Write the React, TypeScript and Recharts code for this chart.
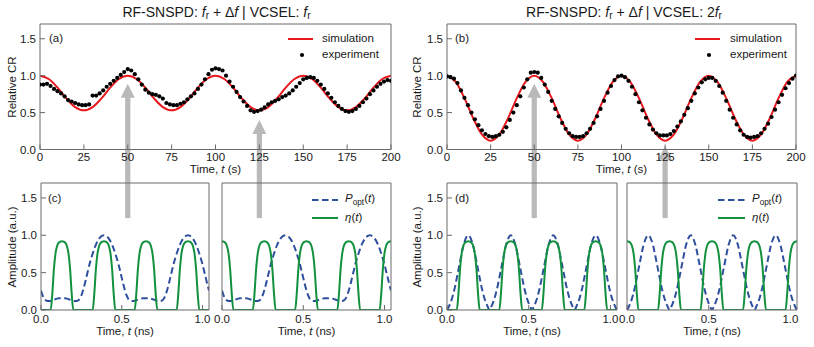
import React from 'react';
import { LineChart, Line, XAxis, YAxis } from 'recharts';

// ---------- data ----------
const expTimeS = Array.from({ length: 101 }, (_, i) => i * 2);
const simTimeS = Array.from({ length: 41 }, (_, i) => i * 5);
const gridNs = Array.from({ length: 105 }, (_, i) => i / 100);

const simA = [
  1.0, 0.955, 0.838, 0.692, 0.575, 0.53, 0.575, 0.692, 0.838, 0.955,
  1.0, 0.955, 0.838, 0.692, 0.575, 0.53, 0.575, 0.692, 0.838, 0.955,
  1.0, 0.955, 0.838, 0.692, 0.575, 0.53, 0.575, 0.692, 0.838, 0.955,
  1.0, 0.955, 0.838, 0.692, 0.575, 0.53, 0.575, 0.692, 0.838, 0.955,
  1.0,
];
const simB = [
  1.0, 0.916, 0.696, 0.424, 0.204, 0.12, 0.204, 0.424, 0.696, 0.916,
  1.0, 0.916, 0.696, 0.424, 0.204, 0.12, 0.204, 0.424, 0.696, 0.916,
  1.0, 0.916, 0.696, 0.424, 0.204, 0.12, 0.204, 0.424, 0.696, 0.916,
  1.0, 0.916, 0.696, 0.424, 0.204, 0.12, 0.204, 0.424, 0.696, 0.916,
  1.0,
];
const expA = [
  0.88, 0.88, 0.89, 0.86, 0.82, 0.79, 0.76, 0.72, 0.67, 0.65,
  0.63, 0.61, 0.6, 0.6, 0.61, 0.73, 0.73, 0.76, 0.8, 0.85,
  0.89, 0.93, 0.97, 1.01, 1.05, 1.09, 1.07, 1.02, 0.95, 0.88,
  0.81, 0.77, 0.75, 0.74, 0.72, 0.69, 0.63, 0.61, 0.6, 0.6,
  0.62, 0.64, 0.68, 0.72, 0.76, 0.82, 0.88, 0.95, 1.02, 1.08,
  1.1, 1.09, 1.07, 1.0, 0.92, 0.85, 0.78, 0.71, 0.65, 0.59,
  0.53, 0.51, 0.52, 0.54, 0.57, 0.61, 0.64, 0.66, 0.68, 0.71,
  0.73, 0.76, 0.8, 0.85, 0.9, 0.95, 0.97, 0.98, 0.97, 0.93,
  0.88, 0.82, 0.76, 0.7, 0.64, 0.59, 0.55, 0.52, 0.51, 0.52,
  0.55, 0.59, 0.64, 0.69, 0.75, 0.8, 0.85, 0.89, 0.92, 0.94,
  0.93,
];
const expB = [
  0.99, 0.98, 0.96, 0.9, 0.8, 0.7, 0.6, 0.5, 0.41, 0.33,
  0.26, 0.21, 0.18, 0.17, 0.18, 0.2, 0.24, 0.3, 0.4, 0.5,
  0.6, 0.72, 0.84, 0.95, 1.04, 1.05, 1.04, 0.97, 0.88, 0.78,
  0.66, 0.55, 0.45, 0.36, 0.28, 0.22, 0.18, 0.17, 0.17, 0.18,
  0.22, 0.28, 0.36, 0.45, 0.55, 0.66, 0.77, 0.86, 0.94, 0.99,
  1.0, 0.98, 0.93, 0.85, 0.75, 0.64, 0.53, 0.43, 0.34, 0.27,
  0.22, 0.19, 0.19, 0.19, 0.21, 0.25, 0.31, 0.38, 0.47, 0.56,
  0.66, 0.76, 0.84, 0.91, 0.95, 0.97, 0.97, 0.93, 0.86, 0.77,
  0.66, 0.54, 0.43, 0.34, 0.26, 0.2, 0.17, 0.16, 0.17, 0.18,
  0.22, 0.28, 0.35, 0.44, 0.54, 0.64, 0.74, 0.83, 0.9, 0.96,
  1.0,
];
const etaA = [
  0, 0, 0, 0, 0, 0, 0, 0.22, 0.55, 0.76, 0.86, 0.9, 0.915, 0.92, 0.915, 0.9, 0.86, 0.76, 0.55, 0.22, 0, 0, 0, 0, 0, 0,
  0, 0, 0, 0, 0, 0, 0, 0.22, 0.55, 0.76, 0.86, 0.9, 0.915, 0.92, 0.915, 0.9, 0.86, 0.76, 0.55, 0.22, 0, 0, 0, 0, 0, 0,
  0, 0, 0, 0, 0, 0, 0, 0.22, 0.55, 0.76, 0.86, 0.9, 0.915, 0.92, 0.915, 0.9, 0.86, 0.76, 0.55, 0.22, 0, 0, 0, 0, 0, 0,
  0, 0, 0, 0, 0, 0, 0, 0.22, 0.55, 0.76, 0.86, 0.9, 0.915, 0.92, 0.915, 0.9, 0.86, 0.76, 0.55, 0.22, 0, 0, 0, 0, 0, 0,
  0,
];
const etaB = [
  0.92, 0.915, 0.9, 0.86, 0.76, 0.55, 0.22, 0, 0, 0, 0, 0, 0, 0, 0, 0, 0, 0, 0, 0, 0.22, 0.55, 0.76, 0.86, 0.9, 0.915,
  0.92, 0.915, 0.9, 0.86, 0.76, 0.55, 0.22, 0, 0, 0, 0, 0, 0, 0, 0, 0, 0, 0, 0, 0, 0.22, 0.55, 0.76, 0.86, 0.9, 0.915,
  0.92, 0.915, 0.9, 0.86, 0.76, 0.55, 0.22, 0, 0, 0, 0, 0, 0, 0, 0, 0, 0, 0, 0, 0, 0.22, 0.55, 0.76, 0.86, 0.9, 0.915,
  0.92, 0.915, 0.9, 0.86, 0.76, 0.55, 0.22, 0, 0, 0, 0, 0, 0, 0, 0, 0, 0, 0, 0, 0, 0.22, 0.55, 0.76, 0.86, 0.9, 0.915,
  0.92,
];
const popC = [
  0.26, 0.195, 0.15, 0.128, 0.12, 0.12, 0.123, 0.13, 0.138, 0.146,
  0.152, 0.156, 0.158, 0.158, 0.158, 0.156, 0.152, 0.146, 0.138, 0.13,
  0.123, 0.12, 0.12, 0.128, 0.15, 0.195, 0.26, 0.34, 0.43, 0.52,
  0.61, 0.685, 0.755, 0.82, 0.875, 0.92, 0.955, 0.98, 0.995, 1.0,
  0.995, 0.98, 0.955, 0.92, 0.875, 0.82, 0.755, 0.685, 0.61, 0.52,
  0.43, 0.34,
  0.26, 0.195, 0.15, 0.128, 0.12, 0.12, 0.123, 0.13, 0.138, 0.146,
  0.152, 0.156, 0.158, 0.158, 0.158, 0.156, 0.152, 0.146, 0.138, 0.13,
  0.123, 0.12, 0.12, 0.128, 0.15, 0.195, 0.26, 0.34, 0.43, 0.52,
  0.61, 0.685, 0.755, 0.82, 0.875, 0.92, 0.955, 0.98, 0.995, 1.0,
  0.995, 0.98, 0.955, 0.92, 0.875, 0.82, 0.755, 0.685, 0.61, 0.52,
  0.43, 0.34,
  0.26,
];
const popD = [
  0, 0.04, 0.09, 0.15, 0.23, 0.32, 0.43, 0.54, 0.65, 0.76, 0.86, 0.93, 0.98, 1.0, 0.98, 0.93, 0.86, 0.76, 0.65, 0.54, 0.43, 0.32, 0.23, 0.15, 0.09, 0.04,
  0, 0.04, 0.09, 0.15, 0.23, 0.32, 0.43, 0.54, 0.65, 0.76, 0.86, 0.93, 0.98, 1.0, 0.98, 0.93, 0.86, 0.76, 0.65, 0.54, 0.43, 0.32, 0.23, 0.15, 0.09, 0.04,
  0, 0.04, 0.09, 0.15, 0.23, 0.32, 0.43, 0.54, 0.65, 0.76, 0.86, 0.93, 0.98, 1.0, 0.98, 0.93, 0.86, 0.76, 0.65, 0.54, 0.43, 0.32, 0.23, 0.15, 0.09, 0.04,
  0, 0.04, 0.09, 0.15, 0.23, 0.32, 0.43, 0.54, 0.65, 0.76, 0.86, 0.93, 0.98, 1.0, 0.98, 0.93, 0.86, 0.76, 0.65, 0.54, 0.43, 0.32, 0.23, 0.15, 0.09, 0.04,
  0,
];

const xTicksS = [0, 25, 50, 75, 100, 125, 150, 175, 200];
const xMinorS = Array.from({ length: 41 }, (_, i) => i * 5);
const xTicksNs = [0, 0.5, 1.0];
const xMinorNs = Array.from({ length: 11 }, (_, i) => i / 10);
const yTicks = [0, 0.5, 1.0, 1.5];
const yMinor = Array.from({ length: 18 }, (_, i) => i / 10);
const arrowsA = [{ t: 50, v: 0.89 }, { t: 125, v: 0.4 }];
const arrowsB = [{ t: 50, v: 0.89 }, { t: 125, v: 0.05 }];
const arrowTailAmp = 1.23;

// ---------- style ----------
const FONT = '"Liberation Sans", Arial, Helvetica, sans-serif';
const FRAME = '#6a6a6a';
const RED = '#e8191e';
const BLUE = '#2d4f9c';
const GREEN = '#12913e';
const ARROW = '#b9b9b9';
const TXT = '#1a1a1a';
const Y_DOMAIN: [number, number] = [0, 1.7];
const S_DOMAIN: [number, number] = [0, 200];
const NS_DOMAIN: [number, number] = [0, 1.04];
const EPS = 0.01;

type Area = { x: number; y: number; w: number; h: number };
type Plot = { l: number; t: number; r: number; b: number };

const pairs = (ts: number[], vs: number[]) => ts.map((t, i) => ({ t, v: vs[i] }));

function frameAxes(
  xDomain: [number, number],
  xMajor: number[],
  xMinor: number[],
  xFmt: (v: number) => string,
  xTickMargin: number,
  showY: boolean
) {
  const tickStyle = { fill: TXT, fontSize: 11.5, fontFamily: FONT };
  const line = { stroke: FRAME, strokeWidth: 1 };
  return [
    <XAxis key="xm" xAxisId="xm" type="number" domain={xDomain} ticks={xMinor} interval={0} allowDataOverflow height={EPS} tickSize={-2.5} tick={false} axisLine={false} tickLine={line} stroke={FRAME} />,
    <XAxis key="x" xAxisId="x" dataKey="t" type="number" domain={xDomain} ticks={xMajor} interval={0} allowDataOverflow height={EPS} tickSize={-5} tickMargin={xTickMargin} tick={tickStyle} tickFormatter={xFmt} axisLine={line} tickLine={line} stroke={FRAME} />,
    <XAxis key="xtm" xAxisId="xtm" orientation="top" type="number" domain={xDomain} ticks={xMinor} interval={0} allowDataOverflow height={EPS} tickSize={-2.5} tick={false} axisLine={false} tickLine={line} stroke={FRAME} />,
    <XAxis key="xt" xAxisId="xt" orientation="top" type="number" domain={xDomain} ticks={xMajor} interval={0} allowDataOverflow height={EPS} tickSize={-5} tick={false} axisLine={line} tickLine={line} stroke={FRAME} />,
    <YAxis key="ym" yAxisId="ym" type="number" domain={Y_DOMAIN} ticks={yMinor} interval={0} allowDataOverflow width={EPS} tickSize={-2.5} tick={false} axisLine={false} tickLine={line} stroke={FRAME} />,
    <YAxis key="y" yAxisId="y" type="number" domain={Y_DOMAIN} ticks={yTicks} interval={0} allowDataOverflow width={EPS} tickSize={-5} tickMargin={9} tick={showY ? tickStyle : false} tickFormatter={(v: number) => v.toFixed(1)} axisLine={line} tickLine={line} stroke={FRAME} />,
    <YAxis key="yrm" yAxisId="yrm" orientation="right" type="number" domain={Y_DOMAIN} ticks={yMinor} interval={0} allowDataOverflow width={EPS} tickSize={-2.5} tick={false} axisLine={false} tickLine={line} stroke={FRAME} />,
    <YAxis key="yr" yAxisId="yr" orientation="right" type="number" domain={Y_DOMAIN} ticks={yTicks} interval={0} allowDataOverflow width={EPS} tickSize={-5} tick={false} axisLine={line} tickLine={line} stroke={FRAME} />,
  ];
}

function Panel(props: {
  area: Area;
  plot: Plot;
  xDomain: [number, number];
  xMajor: number[];
  xMinor: number[];
  xFmt: (v: number) => string;
  xTickMargin: number;
  showY: boolean;
  children: React.ReactNode;
}) {
  const { area, plot } = props;
  const margin = {
    left: plot.l - area.x - 2 * EPS,
    top: plot.t - area.y - 2 * EPS,
    right: area.x + area.w - plot.r - 2 * EPS,
    bottom: area.y + area.h - plot.b - 2 * EPS,
  };
  return (
    <div style={{ position: 'absolute', left: area.x, top: area.y, width: area.w, height: area.h }}>
      <LineChart width={area.w} height={area.h} margin={margin} style={{ overflow: 'visible' }}>
        {frameAxes(props.xDomain, props.xMajor, props.xMinor, props.xFmt, props.xTickMargin, props.showY)}
        {props.children}
      </LineChart>
    </div>
  );
}

const plotA: Plot = { l: 40, t: 24, r: 391, b: 149.5 };
const plotB: Plot = { l: 447, t: 24, r: 796, b: 149.5 };
const plotC1: Plot = { l: 41, t: 183, r: 209, b: 310 };
const plotC2: Plot = { l: 222, t: 183, r: 391, b: 310 };
const plotD1: Plot = { l: 447, t: 183, r: 617, b: 310 };
const plotD2: Plot = { l: 627, t: 183, r: 797, b: 310 };

const fmtS = (v: number) => String(v);
const fmtNs = (v: number) => v.toFixed(1);

const Sub = ({ children }: { children: React.ReactNode }) => (
  <span style={{ fontSize: '0.72em', verticalAlign: '-0.28em', fontStyle: 'normal' }}>{children}</span>
);

function Txt(props: { x: number; y: number; anchor?: 'start' | 'middle' | 'end'; size?: number; rotate?: boolean; children: React.ReactNode }) {
  const { x, y, anchor = 'middle', size = 11.5, rotate } = props;
  const tx = anchor === 'middle' ? '-50%' : anchor === 'end' ? '-100%' : '0';
  return (
    <div
      style={{
        position: 'absolute',
        left: x,
        top: y,
        transform: `translate(${rotate ? '-50%' : tx}, -50%)${rotate ? ' rotate(-90deg)' : ''}`,
        fontSize: size,
        fontFamily: FONT,
        color: TXT,
        whiteSpace: 'nowrap',
        lineHeight: 1,
      }}
    >
      {props.children}
    </div>
  );
}

function xPix(plot: Plot, dom: [number, number], t: number) {
  return plot.l + ((t - dom[0]) / (dom[1] - dom[0])) * (plot.r - plot.l);
}
function yPix(plot: Plot, v: number) {
  return plot.b - (v / (Y_DOMAIN[1] - Y_DOMAIN[0])) * (plot.b - plot.t);
}

function Arrow({ x, tip, tail }: { x: number; tip: number; tail: number }) {
  const hw = 7;
  const hh = 14;
  return (
    <g fill={ARROW}>
      <polygon points={`${x},${tip} ${x - hw},${tip + hh} ${x + hw},${tip + hh}`} />
      <rect x={x - 2.6} y={tip + hh - 0.5} width={5.2} height={tail - tip - hh + 0.5} />
    </g>
  );
}

export default function App() {
  const simDataA = pairs(simTimeS, simA);
  const simDataB = pairs(simTimeS, simB);
  const expDataA = pairs(expTimeS, expA);
  const expDataB = pairs(expTimeS, expB);
  const popCData = pairs(gridNs, popC);
  const popDData = pairs(gridNs, popD);
  const etaAData = pairs(gridNs, etaA);
  const etaBData = pairs(gridNs, etaB);
  const tailY = yPix(plotC1, arrowTailAmp);

  const simLine = (data: any[]) => (
    <Line key="sim" xAxisId="x" yAxisId="y" data={data} dataKey="v" type="monotone" stroke={RED} strokeWidth={2} dot={false} activeDot={false} isAnimationActive={false} />
  );
  const expDots = (data: any[]) => (
    <Line key="exp" xAxisId="x" yAxisId="y" data={data} dataKey="v" stroke="none" dot={{ r: 2.1, fill: '#000', stroke: 'none' }} activeDot={false} isAnimationActive={false} />
  );
  const popLine = (data: any[]) => (
    <Line key="pop" xAxisId="x" yAxisId="y" data={data} dataKey="v" type="monotone" stroke={BLUE} strokeWidth={2} strokeDasharray="6.5 3.5" dot={false} activeDot={false} isAnimationActive={false} />
  );
  const etaLine = (data: any[]) => (
    <Line key="eta" xAxisId="x" yAxisId="y" data={data} dataKey="v" type="monotone" stroke={GREEN} strokeWidth={2} dot={false} activeDot={false} isAnimationActive={false} />
  );

  return (
    <div style={{ position: 'absolute', left: 0, top: 0, width: 814, height: 347, background: '#fff', overflow: 'hidden', fontFamily: FONT }}>
      <svg style={{ position: 'absolute', left: 0, top: 0 }} width={814} height={347}>
        {arrowsA.map((a, i) => (
          <Arrow key={'a' + i} x={xPix(plotA, S_DOMAIN, a.t)} tip={yPix(plotA, a.v)} tail={tailY} />
        ))}
        {arrowsB.map((a, i) => (
          <Arrow key={'b' + i} x={xPix(plotB, S_DOMAIN, a.t)} tip={yPix(plotB, a.v)} tail={tailY} />
        ))}
      </svg>

      <Panel area={{ x: 0, y: 0, w: 407, h: 180 }} plot={plotA} xDomain={S_DOMAIN} xMajor={xTicksS} xMinor={xMinorS} xFmt={fmtS} xTickMargin={8.5} showY>
        {[simLine(simDataA), expDots(expDataA)]}
      </Panel>
      <Panel area={{ x: 407, y: 0, w: 407, h: 180 }} plot={plotB} xDomain={S_DOMAIN} xMajor={xTicksS} xMinor={xMinorS} xFmt={fmtS} xTickMargin={8.5} showY>
        {[simLine(simDataB), expDots(expDataB)]}
      </Panel>
      <Panel area={{ x: 0, y: 178, w: 214, h: 169 }} plot={plotC1} xDomain={NS_DOMAIN} xMajor={xTicksNs} xMinor={xMinorNs} xFmt={fmtNs} xTickMargin={10} showY>
        {[popLine(popCData), etaLine(etaAData)]}
      </Panel>
      <Panel area={{ x: 205, y: 178, w: 202, h: 169 }} plot={plotC2} xDomain={NS_DOMAIN} xMajor={xTicksNs} xMinor={xMinorNs} xFmt={fmtNs} xTickMargin={10} showY={false}>
        {[popLine(popCData), etaLine(etaBData)]}
      </Panel>
      <Panel area={{ x: 407, y: 178, w: 214, h: 169 }} plot={plotD1} xDomain={NS_DOMAIN} xMajor={xTicksNs} xMinor={xMinorNs} xFmt={fmtNs} xTickMargin={10} showY>
        {[popLine(popDData), etaLine(etaAData)]}
      </Panel>
      <Panel area={{ x: 610, y: 178, w: 204, h: 169 }} plot={plotD2} xDomain={NS_DOMAIN} xMajor={xTicksNs} xMinor={xMinorNs} xFmt={fmtNs} xTickMargin={10} showY={false}>
        {[popLine(popDData), etaLine(etaBData)]}
      </Panel>

      {/* titles */}
      <Txt x={216.5} y={13} size={14}>
        RF-SNSPD: <i>f</i><Sub>r</Sub> + Δ<i>f</i> | VCSEL: <i>f</i><Sub>r</Sub>
      </Txt>
      <Txt x={624} y={13} size={14}>
        RF-SNSPD: <i>f</i><Sub>r</Sub> + Δ<i>f</i> | VCSEL: 2<i>f</i><Sub>r</Sub>
      </Txt>

      {/* axis labels */}
      <Txt x={12.5} y={87} rotate>Relative CR</Txt>
      <Txt x={417.5} y={87} rotate>Relative CR</Txt>
      <Txt x={12.5} y={246.5} rotate>Amplitude (a.u.)</Txt>
      <Txt x={417.5} y={246.5} rotate>Amplitude (a.u.)</Txt>
      <Txt x={215.5} y={170}>Time, <i>t</i> (s)</Txt>
      <Txt x={621.5} y={170}>Time, <i>t</i> (s)</Txt>
      <Txt x={125} y={332}>Time, <i>t</i> (ns)</Txt>
      <Txt x={306.5} y={332}>Time, <i>t</i> (ns)</Txt>
      <Txt x={532} y={332}>Time, <i>t</i> (ns)</Txt>
      <Txt x={712} y={332}>Time, <i>t</i> (ns)</Txt>

      {/* panel letters */}
      <Txt x={49} y={39} anchor="start">(a)</Txt>
      <Txt x={455} y={39} anchor="start">(b)</Txt>
      <Txt x={48} y={199} anchor="start">(c)</Txt>
      <Txt x={455} y={199} anchor="start">(d)</Txt>

      {/* legends */}
      <svg style={{ position: 'absolute', left: 0, top: 0, pointerEvents: 'none' }} width={814} height={347}>
        <line x1={288} x2={313} y1={39} y2={39} stroke={RED} strokeWidth={2} />
        <circle cx={302} cy={55} r={2.1} fill="#000" />
        <line x1={695} x2={720} y1={39} y2={39} stroke={RED} strokeWidth={2} />
        <circle cx={709} cy={55} r={2.1} fill="#000" />
        <line x1={312} x2={338} y1={200} y2={200} stroke={BLUE} strokeWidth={2} strokeDasharray="6.5 3.5" />
        <line x1={312} x2={338} y1={218} y2={218} stroke={GREEN} strokeWidth={2} />
        <line x1={718} x2={745} y1={200} y2={200} stroke={BLUE} strokeWidth={2} strokeDasharray="6.5 3.5" />
        <line x1={718} x2={745} y1={218} y2={218} stroke={GREEN} strokeWidth={2} />
      </svg>
      <Txt x={322} y={39} anchor="start">simulation</Txt>
      <Txt x={322} y={55} anchor="start">experiment</Txt>
      <Txt x={730} y={39} anchor="start">simulation</Txt>
      <Txt x={730} y={55} anchor="start">experiment</Txt>
      <Txt x={345} y={200} anchor="start"><i>P</i><Sub>opt</Sub>(<i>t</i>)</Txt>
      <Txt x={345} y={218} anchor="start"><i>η</i>(<i>t</i>)</Txt>
      <Txt x={752} y={200} anchor="start"><i>P</i><Sub>opt</Sub>(<i>t</i>)</Txt>
      <Txt x={752} y={218} anchor="start"><i>η</i>(<i>t</i>)</Txt>
    </div>
  );
}
